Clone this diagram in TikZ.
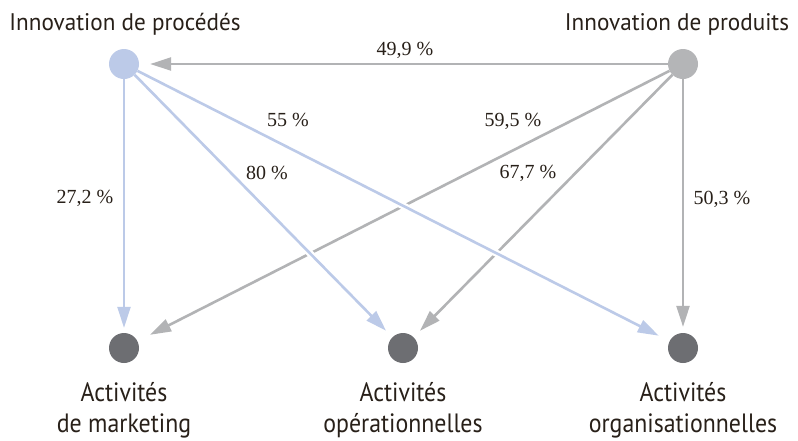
\documentclass[tikz,border=0pt]{standalone}
\usepackage{fontspec}
\setmainfont{Liberation Serif}
\newfontfamily\lblfont[FakeStretch=0.965]{PT Sans}
\newfontfamily\botfont[FakeStretch=0.9]{PT Sans}
\usetikzlibrary{arrows.meta}
\definecolor{cblue}{RGB}{188,202,232}
\definecolor{cgray}{RGB}{178,179,181}
\definecolor{cgraynode}{RGB}{180,181,183}
\definecolor{cdark}{RGB}{109,110,114}
\definecolor{ctext}{RGB}{40,32,25}
\tikzset{
  dot/.style={circle, inner sep=0pt, minimum size=30pt, draw=none},
  toplbl/.style={font=\lblfont\fontsize{24}{28}\selectfont, text=ctext, inner sep=0pt, anchor=base},
  botlbl/.style={font=\botfont\fontsize{26.5}{30.5}\selectfont, text=ctext, inner sep=0pt, anchor=base, align=center},
  pct/.style={font=\fontsize{20}{22}\selectfont, text=ctext, inner sep=0pt},
  garrow/.style={draw=cgray, line width=2.6pt, -{Triangle[length=21pt,width=13pt]}},
  barrow/.style={draw=cblue, line width=2.6pt, -{Triangle[length=21pt,width=13pt]},
    preaction={draw=white, line width=7pt, shorten <=40pt, shorten >=40pt, -}},
}
\begin{document}
\begin{tikzpicture}[x=1pt,y=-1pt]
\useasboundingbox[fill=white] (0,0) rectangle (798,440);
% nodes
\node[dot, fill=cblue] (proc) at (124,64) {};
\node[dot, fill=cgraynode] (prod) at (683,64) {};
\node[dot, fill=cdark] (mkt) at (124,348) {};
\node[dot, fill=cdark] (oper) at (403,348) {};
\node[dot, fill=cdark] (org) at (683,348) {};
% labels
\node[toplbl] (lproc) at (125,30) {Innovation de procédés};
\node[toplbl] (lprod) at (677,30) {Innovation de produits};
\node[botlbl] (lmkt) at (124,432) {Activités\\de marketing};
\node[botlbl] (loper) at (403,432) {Activités\\opérationnelles};
\node[botlbl] (lorg) at (683,432) {Activités\\organisationnelles};
% gray arrows
\draw[garrow, shorten >=11pt] (prod) -- (proc);
\draw[garrow, shorten >=14pt] (prod) -- (mkt);
\draw[garrow, shorten >=9pt] (prod) -- (oper);
\draw[garrow, shorten >=6pt] (prod) -- (org);
% blue arrows
\draw[barrow, shorten >=5pt] (proc) -- (mkt);
\draw[barrow, shorten >=9pt] (proc) -- (oper);
\draw[barrow, shorten >=12pt] (proc) -- (org);
% percentages
\node[pct] (p1) at (405,50) {49,9 \%};
\node[pct] (p2) at (288,120) {55 \%};
\node[pct] (p3) at (267,173) {80 \%};
\node[pct] (p4) at (85,198) {27,2 \%};
\node[pct] (p5) at (513,121) {59,5 \%};
\node[pct] (p6) at (528,173) {67,7 \%};
\node[pct] (p7) at (722,199) {50,3 \%};
\end{tikzpicture}
\end{document}
